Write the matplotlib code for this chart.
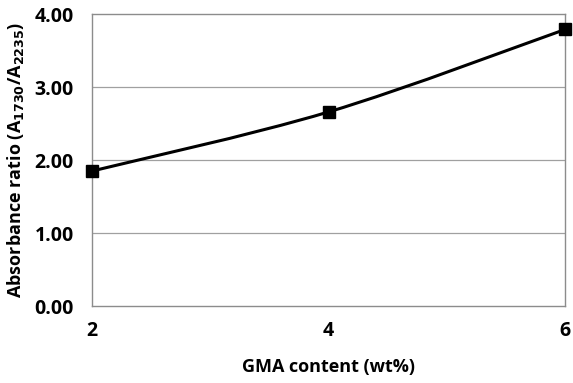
import matplotlib
matplotlib.use("Agg")
import matplotlib.pyplot as plt
from matplotlib.path import Path
from matplotlib.patches import PathPatch
import numpy as np

# Data
gma_content = [2, 4, 6]
absorbance_ratio = [1.85, 2.66, 3.79]
y_ticks = [0.0, 1.0, 2.0, 3.0, 4.0]

plt.rcParams['font.family'] = ['Open Sans', 'DejaVu Sans']
plt.rcParams['font.weight'] = 'bold'


def smooth_path(xs, ys):
    """ Excel-like smoothed line as cubic bezier segments. """
    pts = np.column_stack([xs, ys]).astype(float)
    ext = np.vstack([pts[0], pts, pts[-1]])
    verts = [tuple(pts[0])]
    codes = [Path.MOVETO]
    for i in range(len(pts) - 1):
        p0, p1, p2, p3 = ext[i], ext[i + 1], ext[i + 2], ext[i + 3]
        c1 = p1 + (p2 - p0) / 6
        c2 = p2 - (p3 - p1) / 6
        verts += [tuple(c1), tuple(c2), tuple(p2)]
        codes += [Path.CURVE4] * 3
    return Path(verts, codes)


fig = plt.figure(figsize=(5.73, 3.83), dpi=100)
ax = fig.add_axes([0.1606, 0.201, 0.8254, 0.762])

for y in y_ticks[1:-1]:
    ax.axhline(y, color="#a0a0a0", linewidth=0.9, zorder=1)

ax.add_patch(PathPatch(smooth_path(gma_content, absorbance_ratio), facecolor="none",
                       edgecolor="black", linewidth=2.2, zorder=3))
ax.plot(gma_content, absorbance_ratio, linestyle="none", marker="s", markersize=8,
        color="black", zorder=4, clip_on=False)

ax.set_xlim(2, 6)
ax.set_ylim(0, 4)
ax.set_xticks(gma_content)
ax.set_yticks(y_ticks)
ax.set_yticklabels([f"{v:.2f}" for v in y_ticks])
ax.tick_params(length=0, labelsize=14)
ax.tick_params(axis="y", pad=13)
ax.tick_params(axis="x", pad=11)
for spine in ax.spines.values():
    spine.set_color("#8c8c8c")
    spine.set_linewidth(1.0)

ax.set_xlabel("GMA content (wt%)", fontsize=13, fontweight="bold", labelpad=12)
ax.set_ylabel("Absorbance ratio (A$_{\\mathbf{1730}}$/A$_{\\mathbf{2235}}$)", fontsize=13,
              fontweight="bold", labelpad=6)

fig.savefig("out.png", dpi=100)
